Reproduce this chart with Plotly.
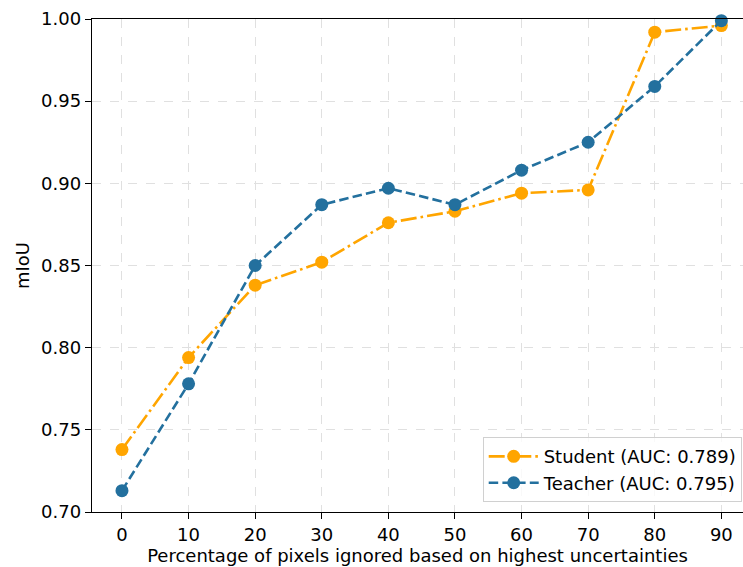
import plotly.graph_objects as go

x_pct = [0, 10, 20, 30, 40, 50, 60, 70, 80, 90]
student = [0.738, 0.794, 0.838, 0.852, 0.876, 0.883, 0.894, 0.896, 0.992, 0.996]
teacher = [0.713, 0.778, 0.850, 0.887, 0.897, 0.887, 0.908, 0.925, 0.959, 0.999]
x_ticks = [0, 10, 20, 30, 40, 50, 60, 70, 80, 90]
y_ticks = [0.70, 0.75, 0.80, 0.85, 0.90, 0.95, 1.00]

ORANGE = "#FFA500"
BLUE = "#23709e"

fig = go.Figure()
fig.add_trace(go.Scatter(
    x=x_pct, y=student, mode="lines+markers", name="Student (AUC: 0.789)",
    line=dict(color=ORANGE, width=2.6, dash="16px,4px,2.6px,4px"),
    marker=dict(color=ORANGE, size=13), cliponaxis=False))
fig.add_trace(go.Scatter(
    x=x_pct, y=teacher, mode="lines+markers", name="Teacher (AUC: 0.795)",
    line=dict(color=BLUE, width=2.6, dash="9.5px,4.2px"),
    marker=dict(color=BLUE, size=13), cliponaxis=False))

font = dict(family="DejaVu Sans", size=18, color="black")
fig.update_layout(
    width=743, height=567,
    margin=dict(l=92, r=0, t=19, b=55),
    paper_bgcolor="white", plot_bgcolor="white",
    font=font,
    showlegend=True,
    legend=dict(x=0.998, y=0.02, xanchor="right", yanchor="bottom",
                bgcolor="rgba(255,255,255,0.8)", bordercolor="#d0d0d0", borderwidth=1,
                font=font, tracegroupgap=0, itemwidth=50),
    xaxis=dict(range=[-4.5, 93.25], tickvals=x_ticks, ticks="outside", ticklen=6,
               tickwidth=1.2, tickcolor="black", showline=True, linecolor="black",
               linewidth=1.4, mirror=True, showgrid=True, gridcolor="#e0e0e0",
               griddash="dash", zeroline=False, tickfont=font,
               title=dict(text="Percentage of pixels ignored based on highest uncertainties",
                          font=font, standoff=2)),
    yaxis=dict(range=[0.70, 1.00], tickvals=y_ticks, tickformat=".2f", ticks="outside",
               ticklen=6, tickwidth=1.2, tickcolor="black", showline=True,
               linecolor="black", linewidth=1.4, mirror=False, showgrid=True,
               gridcolor="#e0e0e0", griddash="dash", zeroline=False, tickfont=font,
               title=dict(text="mIoU", font=font, standoff=6)),
)
fig.write_html("out.html", config={"displayModeBar": False},
               post_script="document.body.style.margin='0';document.body.style.overflow='hidden';")
